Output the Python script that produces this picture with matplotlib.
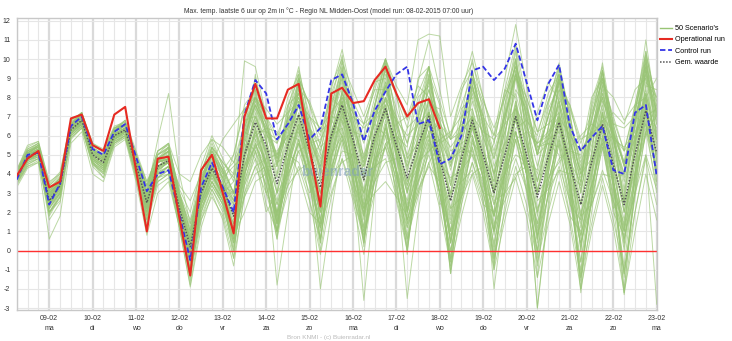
import numpy as np
import matplotlib.pyplot as plt
from matplotlib.lines import Line2D

plt.rcParams['font.family'] = ['Liberation Sans', 'DejaVu Sans']
plt.rcParams['axes.unicode_minus'] = False

dagen = ['09-02', '10-02', '11-02', '12-02', '13-02', '14-02', '15-02', '16-02',
         '17-02', '18-02', '19-02', '20-02', '21-02', '22-02', '23-02']
weekdagen = ['ma', 'di', 'wo', 'do', 'vr', 'za', 'zo', 'ma',
             'di', 'wo', 'do', 'vr', 'za', 'zo', 'ma']

# operational run (stopt na 18-02)
operational = [3.9, 4.8, 5.2, 3.3, 3.6, 6.9, 7.1, 5.5, 5.2, 7.1, 7.5, 4.2, 1.0, 4.8, 4.9, 1.7,
               -1.3, 4.2, 5.0, 3.0, 0.9, 7.0, 8.7, 6.9, 6.9, 8.4, 8.7, 5.3, 2.3, 8.2, 8.5, 7.7,
               7.8, 8.9, 9.6, 8.2, 7.0, 7.7, 7.9, 6.4]

control = [3.7, 5.0, 5.1, 2.4, 3.5, 6.5, 7.0, 5.3, 5.0, 6.2, 6.6, 4.9, 3.1, 4.0, 4.2, 1.9,
           -0.5, 3.3, 4.6, 3.3, 2.0, 7.1, 8.9, 8.2, 5.8, 6.6, 7.6, 5.8, 6.4, 8.9, 9.2, 7.7,
           5.7, 7.3, 8.3, 9.2, 9.6, 6.6, 6.8, 4.5, 4.8, 6.0, 9.4, 9.6, 8.9, 9.5, 10.8, 8.8,
           6.8, 8.7, 9.7, 6.5, 5.2, 5.9, 6.5, 4.2, 4.0, 7.2, 7.6, 3.9]

gemiddeld = [3.8, 4.9, 5.1, 2.6, 3.4, 6.3, 6.8, 5.0, 4.6, 6.0, 6.3, 4.5, 2.5, 4.4, 4.7, 2.2,
             0.2, 3.0, 4.3, 3.3, 1.8, 5.0, 6.7, 5.5, 3.5, 5.5, 7.1, 5.2, 3.3, 6.0, 7.6, 5.8,
             3.7, 6.0, 7.4, 5.5, 3.8, 5.5, 7.0, 4.8, 2.6, 4.8, 6.8, 5.0, 3.0, 5.0, 7.0, 5.0,
             2.8, 4.9, 6.7, 4.5, 2.4, 4.6, 6.6, 4.5, 2.4, 5.0, 7.3, 5.1]

# 50 scenario's, waarden in tienden van graden, per dag 4 waarden
scenarios = [
    "41 51 54 31|37 66 71 53|49 63 66 48|29 48 52 27|6 36 50 41|28 60 78 66|48 66 84 63|44 70 88 68|46 70 86 64|44 62 78 56|34 56 78 60|40 62 82 60|36 58 76 54|32 55 76 54|30 60 84 62",
    "36 48 52 18|28 64 70 46|40 58 64 40|16 40 48 14|-12 24 42 28|4 46 72 50|16 48 78 44|10 52 84 48|12 50 80 40|8 42 74 36|-4 36 72 38|2 40 78 40|-2 40 74 34|-6 36 72 32|-8 40 80 40",
    "35 45 48 22|30 60 65 47|43 57 60 41|20 38 42 18|-4 24 36 26|10 40 55 44|24 42 56 40|20 44 58 42|22 42 54 38|20 36 50 30|8 28 46 30|10 30 48 32|8 28 44 26|4 24 42 26|6 30 50 32",
    "40 52 56 34|40 66 72 56|52 64 68 52|36 50 54 32|20 42 54 46|38 64 80 70|60 76 90 76|62 82 98 84|70 86 100 82|68 82 96 78|60 76 92 78|64 80 96 80|62 78 92 74|56 72 88 70|52 74 96 80",
    "38 47 50 28|36 61 66 50|47 59 62 46|30 44 46 28|14 32 40 34|26 40 62 62|58 64 70 44|30 42 66 70|64 70 76 50|32 44 62 66|58 62 70 46|24 40 58 62|56 60 68 44|20 34 56 60|52 60 74 50",
    "37 49 51 24|33 62 67 48|44 58 62 42|20 40 44 16|-10 22 36 26|6 40 58 46|20 48 66 50|30 60 80 64|44 68 86 66|50 66 84 64|44 64 86 68|50 70 92 72|52 70 90 66|46 64 86 64|44 66 94 72",
    "39 50 53 30|36 65 70 52|48 62 66 48|30 48 52 28|10 36 50 42|30 60 76 64|46 62 78 56|36 58 74 52|26 48 64 40|16 36 54 30|0 24 46 26|-4 20 44 24|-6 20 42 18|-14 14 38 16|-10 20 48 24",
    "37 50 55 20|26 65 71 46|38 60 66 38|12 42 52 16|-16 26 50 30|-4 50 82 56|10 54 90 50|4 58 96 54|2 56 96 50|-2 50 90 44|-12 40 88 46|-10 44 94 48|-14 44 92 42|-20 38 88 40|-22 40 96 46",
    "39 49 52 27|35 64 69 51|47 61 64 46|27 46 49 24|4 32 46 36|22 36 80 40|14 40 86 38|20 70 92 34|10 44 88 66|30 76 96 40|4 34 84 70|40 82 100 46|10 40 90 72|34 78 96 44|6 36 88 80",
    "34 44 46 6|18 56 62 40|36 54 58 36|8 30 36 12|-18 16 32 20|0 36 56 40|18 44 66 44|26 56 76 56|30 56 74 54|34 54 72 46|20 44 66 46|24 46 68 46|20 44 66 40|14 40 64 40|16 46 72 48",
    "42 55 57 36|40 68 72 55|52 64 66 50|34 52 56 30|12 40 56 44|30 62 80 62|40 60 76 52|30 58 78 56|36 62 80 60|46 66 84 62|42 64 86 66|48 70 90 66|44 64 84 58|36 58 80 58|38 64 90 66",
    "33 43 46 20|30 59 64 46|42 56 60 40|20 38 40 18|0 26 38 30|36 62 58 30|40 70 64 36|16 54 82 72|48 66 60 30|12 30 52 58|46 74 80 60|14 26 40 44|30 60 84 76|52 62 58 20|8 30 62 70",
    "38 48 50 26|34 62 67 49|45 59 62 44|22 40 42 18|-6 22 34 24|6 34 48 34|10 30 44 26|-2 28 48 32|6 36 56 42|26 52 72 56|36 60 82 64|48 70 92 70|50 70 88 62|40 60 80 58|36 58 82 58",
    "40 52 55 32|38 66 71 53|49 62 65 47|26 44 46 20|-4 28 44 34|50 74 64 30|20 34 42 46|56 86 100 64|40 44 48 28|2 42 80 68|46 54 50 30|28 76 106 70|30 38 46 54|60 66 62 22|28 70 110 70",
    "39 50 53 28|35 64 70 51|47 62 66 47|30 58 82 40|14 44 60 48|36 64 80 66|50 68 82 60|40 62 80 60|38 58 74 52|34 50 66 44|22 44 64 46|30 52 74 54|36 58 78 56|38 60 82 62|44 68 94 72",
    "41 53 56 33|38 66 71 54|50 64 67 50|34 52 56 40|36 50 58 54|46 66 80 70|56 68 80 62|48 66 82 64|50 66 80 60|44 58 72 50|30 50 70 52|36 56 76 56|40 60 78 56|42 62 82 60|46 68 92 70",
    "36 46 48 20|28 60 65 45|40 56 60 38|14 34 38 12|-19 12 30 16|-8 30 52 34|6 36 58 36|0 36 62 40|4 38 60 36|4 34 56 30|-6 28 54 32|-2 30 58 34|-4 30 56 28|-10 26 54 28|-12 28 62 34",
    "40 51 55 30|36 67 72 52|48 63 68 46|24 46 52 22|2 34 52 38|24 66 90 70|44 74 96 66|42 78 102 72|40 74 100 68|40 70 96 62|28 62 94 64|32 68 100 68|30 64 96 60|24 60 94 60|26 66 104 72",
    "37 48 50 25|33 62 67 49|45 60 63 45|24 43 46 21|0 28 40 30|14 62 76 36|6 56 90 64|40 50 60 44|24 70 96 50|16 32 44 36|10 58 90 76|44 56 62 30|0 46 82 58|30 64 80 36|12 58 102 60",
    "38 50 53 29|36 64 69 52|48 61 64 47|28 46 48 24|4 30 42 32|40 68 70 52|52 60 58 26|6 40 70 62|60 88 90 60|20 44 58 46|38 42 50 36|10 50 90 80|62 66 72 30|4 30 68 72|66 84 90 46",
    "38 49 52 26|34 63 68 50|46 60 64 44|24 44 48 20|0 30 44 34|20 52 70 58|38 58 76 58|44 70 90 72|56 80 100 80|64 88 110 84|58 82 104 80|56 84 108 78|50 76 98 70|42 70 94 66|44 76 104 76",
    "37 48 51 25|33 62 67 48|44 58 62 42|22 42 46 18|-6 24 38 26|10 40 56 40|18 40 56 36|12 40 58 38|10 36 54 32|6 28 46 22|-8 18 40 20|-10 16 38 18|-14 14 36 14|-20 10 34 12|-22 10 40 16",
    "40 50 52 32|38 62 66 54|50 60 62 50|36 46 48 34|26 40 46 58|66 74 80 74|66 72 78 70|64 72 80 72|66 72 78 68|60 66 72 62|54 62 70 62|58 66 74 64|56 62 70 60|52 60 68 58|54 62 72 64",
    "39 50 53 28|35 64 69 51|47 61 64 46|26 46 50 24|4 36 54 46|40 99 96 70|48 70 86 64|46 72 90 68|44 68 86 60|36 58 78 52|26 50 74 54|30 54 78 56|30 54 76 50|24 50 74 52|26 56 82 58",
    "36 47 50 23|31 61 66 47|43 58 61 43|22 40 44 20|-2 26 40 30|30 56 48 20|30 72 88 64|14 30 48 26|-2 40 80 70|56 80 86 48|30 36 42 24|20 66 98 74|50 56 50 18|10 52 86 80|68 76 80 36",
    "38 51 55 24|30 66 72 48|42 62 68 40|18 46 54 18|-10 32 54 36|6 56 84 60|18 60 92 58|14 66 100 62|18 64 98 58|20 62 96 54|4 52 94 56|10 58 100 60|6 54 96 52|0 50 94 52|2 54 100 58",
    "42 53 56 34|39 67 71 55|51 64 66 49|31 50 53 27|8 36 50 40|46 58 52 24|10 54 84 78|62 68 60 28|8 30 56 60|54 90 96 60|22 28 40 44|56 84 80 40|4 52 88 76|58 62 64 26|10 54 86 84",
    "35 45 48 16|25 58 64 44|38 55 59 38|16 36 40 12|-12 18 32 22|4 36 54 40|20 44 62 44|24 52 72 54|30 54 72 50|30 50 68 44|18 42 64 44|18 40 62 40|12 36 58 34|8 34 58 36|10 40 66 42",
    "38 49 52 26|33 63 68 49|45 60 63 44|24 44 48 20|-2 30 46 32|10 50 70 50|14 46 70 42|6 48 76 40|-26 30 66 34|0 40 72 36|-10 34 70 38|-6 38 76 40|-30 24 70 30|-16 30 72 34|-20 32 78 36",
    "40 51 53 29|37 65 70 52|49 62 65 47|28 47 50 25|6 32 44 34|24 70 84 44|8 46 90 76|54 60 64 40|12 76 100 56|36 46 52 58|62 70 74 48|30 72 104 56|22 34 48 52|50 80 90 56|40 60 70 74",
    "39 50 52 28|35 64 69 51|47 61 64 46|27 46 50 24|4 32 48 38|26 56 74 62|48 64 80 64|56 76 94 78|66 84 100 86|76 110 113 112|70 86 98 80|60 80 96 76|50 70 88 64|40 62 84 60|40 66 92 68",
    "37 47 49 24|32 61 66 48|44 58 61 43|22 41 44 19|-4 24 36 26|4 30 44 48|50 60 62 34|4 48 84 52|22 30 36 28|18 60 80 70|58 66 60 26|-8 34 70 46|32 50 80 64|40 48 56 30|14 56 96 58",
    "40 51 54 30|36 65 70 52|48 62 65 47|28 48 52 26|6 34 50 40|26 58 76 62|44 64 80 60|42 68 86 66|46 70 88 68|48 70 88 66|44 68 90 70|60 90 118 86|56 78 96 70|44 68 90 66|46 72 100 74",
    "36 46 49 22|30 60 65 46|42 57 60 42|20 40 44 16|-8 20 34 24|2 34 52 38|14 38 58 38|12 42 64 44|16 44 64 42|16 40 60 36|4 32 58 38|8 36 62 40|6 36 60 36|2 34 60 38|4 40 68 44",
    "39 50 52 27|34 63 68 50|46 60 63 45|25 44 47 21|0 30 44 32|16 50 68 52|30 54 72 50|26 58 78 54|28 56 76 50|24 50 72 42|6 40 70 44|0 40 74 42|-30 20 64 32|-12 28 66 36|-14 32 74 40",
    "41 52 54 31|38 65 70 53|50 63 66 48|32 50 54 30|10 38 52 42|30 60 76 64|50 66 82 64|52 74 92 74|58 76 94 74|56 72 90 68|48 68 90 70|52 72 92 70|50 70 90 66|48 68 90 68|52 76 102 78",
    "37 48 50 24|32 62 67 48|44 58 62 42|22 42 46 18|-4 26 40 28|10 42 60 44|24 46 64 44|20 48 68 46|18 44 64 40|12 36 58 30|0 28 54 30|4 32 58 32|0 30 56 26|-6 26 54 24|-23 20 50 -28",
    "39 51 54 29|36 66 71 52|48 63 66 47|26 47 52 24|2 34 50 38|44 50 60 64|62 54 40 20|14 62 78 44|30 48 54 66|70 86 80 44|10 30 56 50|36 76 96 62|26 32 42 40|34 74 92 60|20 40 62 76",
    "38 48 51 26|34 62 67 49|45 59 62 44|24 43 46 20|-2 26 40 28|14 44 62 46|26 48 66 46|22 50 70 46|20 46 68 40|-25 20 56 34|10 40 66 44|18 46 72 48|20 48 72 46|18 46 72 48|20 50 80 54",
    "37 49 52 24|32 63 68 49|44 59 63 43|22 42 46 18|-6 24 40 28|8 44 64 46|14 42 64 40|-20 20 56 36|6 40 66 42|14 44 68 40|4 38 66 42|10 42 70 44|8 40 68 40|-22 20 60 36|0 36 70 42",
    "38 49 51 25|34 63 68 50|46 60 63 45|24 44 47 20|-2 28 42 30|12 44 62 44|-18 20 56 38|16 48 72 50|22 50 72 48|22 46 66 38|-12 24 58 38|12 44 70 46|18 46 70 44|12 42 68 44|12 46 76 50",
    "40 50 52 28|36 64 69 51|48 61 64 46|28 46 48 24|4 30 42 32|18 48 66 50|30 52 70 50|30 58 78 56|32 58 76 52|30 52 72 44|16 44 70 46|-20 24 62 40|14 44 70 46|16 46 72 48|20 52 82 56",
    "41 52 55 31|37 66 71 53|49 63 66 48|30 50 56 28|8 40 58 44|30 64 86 66|46 70 94 70|50 84 105 78|48 76 98 70|42 68 92 62|34 62 90 66|38 66 94 66|36 64 92 62|30 60 90 62|32 66 98 70",
    "35 44 47 19|29 59 64 45|41 56 59 40|18 36 40 14|-10 16 28 18|-4 28 44 30|10 34 52 34|12 40 60 42|18 42 62 42|22 42 62 40|14 38 60 42|18 40 62 40|14 36 58 34|8 32 56 34|10 38 64 42",
    "39 51 54 28|35 65 70 51|47 62 66 46|26 48 54 26|4 36 54 42|10 50 92 58|16 38 60 70|60 80 74 30|4 50 92 82|48 56 60 30|-4 44 86 60|40 62 84 74|54 56 54 24|16 68 98 64|24 42 80 90",
    "38 48 50 30|38 62 66 52|50 60 62 48|34 46 48 30|16 34 44 38|8 20 36 40|46 50 46 30|38 76 96 60|24 36 46 48|64 70 62 24|30 70 100 72|26 30 38 50|72 88 78 40|6 44 78 66|64 70 66 30",
    "37 47 49 22|31 61 66 47|43 57 61 41|18 38 42 14|-12 20 36 24|10 28 40 44|44 76 82 54|22 36 52 50|44 60 70 26|0 46 92 76|48 52 52 34|18 44 64 68|60 82 92 52|18 24 40 38|40 74 98 66",
    "42 54 57 35|41 68 72 56|53 65 67 51|33 52 55 30|10 38 52 42|50 76 84 70|30 40 52 56|58 70 68 36|20 58 86 60|14 30 46 56|60 84 94 66|32 40 50 46|42 74 86 54|0 40 70 62|46 58 66 40",
    "36 47 50 20|28 61 67 46|41 58 62 40|16 38 44 14|-14 20 40 26|0 40 64 44|10 42 68 42|6 44 74 46|8 44 74 42|6 38 68 36|-6 30 66 38|-4 32 70 40|-8 30 68 34|-14 26 66 36|-12 30 74 40",
    "40 50 52 29|37 64 69 52|49 61 64 47|29 46 48 25|6 32 44 34|30 44 54 60|56 80 92 60|36 40 46 50|66 84 84 52|20 44 76 74|52 56 60 38|20 60 92 76|54 58 62 46|36 76 94 58|26 40 60 72",
]

fig = plt.figure(figsize=(7.32, 3.41), dpi=100)
ax = fig.add_axes([16.7 / 732, 1 - 310 / 341, 640 / 732, 292 / 341])

# grid
for i in range(60):
    if i % 4 == 3:
        ax.axvline(i, color='#dadada', lw=1.6, zorder=0)
    else:
        ax.axvline(i, color='#e6e6e6', lw=0.8, zorder=0)
for y in range(-3, 13):
    ax.axhline(y, color='#e6e6e6', lw=0.8, zorder=0)

for s in scenarios:
    vals = [int(v) / 10 for v in s.replace('|', ' ').split()]
    ax.plot(range(len(vals)), vals, color='#98c474', lw=0.7, alpha=0.65, zorder=1)

ax.axhline(0, color='#ff3030', lw=1.0, zorder=2)

ax.text(29.5, 4.1, 'buienradar', fontsize=10, fontweight='bold', color='#7f9dbf',
        alpha=0.55, ha='center', va='center', zorder=2)

ax.plot(range(len(gemiddeld)), gemiddeld, color='#555555', lw=1.1, ls=(0, (1, 1)), zorder=3)
ax.plot(range(len(control)), control, color='#3434e6', lw=1.3, ls=(0, (3, 1.5)), zorder=4)
ax.plot(range(len(operational)), operational, color='#e62a22', lw=1.5, zorder=5)

ax.set_xlim(0, 59)
ax.set_ylim(-3.1, 12.14)
ax.set_yticks(range(-3, 13))
ax.set_xticks(range(3, 60, 4))
ax.set_xticklabels([d + '\n' + w for d, w in zip(dagen, weekdagen)])
ax.tick_params(axis='both', length=0, labelsize=5, colors='#333333')
ax.tick_params(axis='x', pad=3.5)
ax.tick_params(axis='y', pad=4.5)
for t in ax.get_xticklabels():
    t.set_linespacing(1.55)
for sp in ax.spines.values():
    sp.set_color('#c8c8c8')
    sp.set_linewidth(1.0)

fig.text(329 / 732, 1 - 11 / 341,
         'Max. temp. laatste 6 uur op 2m in \u00b0C - Regio NL Midden-Oost (model run: 08-02-2015 07:00 uur)',
         ha='center', va='center', fontsize=4.85, color='#333333')
fig.text(329 / 732, 1 - 337 / 341, 'Bron KNMI - (c) Buienradar.nl',
         ha='center', va='center', fontsize=4.6, color='#bbbbbb')

handles = [
    Line2D([], [], color='#98c474', lw=1.0),
    Line2D([], [], color='#e62a22', lw=1.5),
    Line2D([], [], color='#3434e6', lw=1.3, ls=(0, (3, 1.5))),
    Line2D([], [], color='#555555', lw=1.1, ls=(0, (1, 1))),
]
fig.legend(handles, ["50 Scenario's", 'Operational run', 'Control run', 'Gem. waarde'],
           loc='upper left', bbox_to_anchor=(660 / 732, 1 - 25 / 341), frameon=False,
           fontsize=5.2, handlelength=1.6, handletextpad=0.5, labelspacing=0.6,
           borderaxespad=0, borderpad=0)

fig.savefig('out.png', dpi=100)
